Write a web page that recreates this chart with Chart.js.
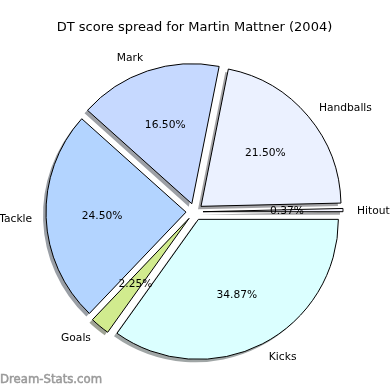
<!DOCTYPE html>
<html>
<head>
<meta charset="utf-8">
<script src="https://cdn.jsdelivr.net/npm/chart.js@4"></script>
<style>
  body { margin: 0; background: #fff; }
</style>
</head>
<body>
<canvas id="myChart" width="390" height="390"></canvas>
<script>
// listed clockwise from 3 o'clock (chart.js goes clockwise, the original goes the other way)
const labels = ['Kicks', 'Goals', 'Tackle', 'Mark', 'Handballs', 'Hitout'];
const percents = [34.87, 2.25, 24.50, 16.50, 21.50, 0.37];
const colors = ['#dbffff', '#d1eb8e', '#b3d4ff', '#c6d9ff', '#ebf1ff', '#f4f4ff'];

const FONT = "'DejaVu Sans', sans-serif";
const explode = 8.5;
const shadowShift = 3;

// darker, half transparent copy of the wedge colour
function shadowOf(hex) {
  const n = parseInt(hex.slice(1), 16);
  const r = (n >> 16) & 255, g = (n >> 8) & 255, b = n & 255;
  return `rgba(${Math.round(r * 0.3)},${Math.round(g * 0.3)},${Math.round(b * 0.3)},0.5)`;
}

const explodePlugin = {
  id: 'explode',
  afterDatasetUpdate(chart, args) {
    args.meta.data.forEach(arc => {
      const mid = (arc.startAngle + arc.endAngle) / 2;
      arc.x += explode * Math.cos(mid);
      arc.y += explode * Math.sin(mid);
    });
  },
  beforeDatasetDraw(chart, args) {
    const ctx = chart.ctx;
    args.meta.data.forEach((arc, i) => {
      const saved = arc.options;
      arc.options = Object.assign({}, saved, { backgroundColor: shadowOf(colors[i]), borderWidth: 0 });
      ctx.save();
      ctx.translate(-shadowShift, shadowShift);
      arc.draw(ctx);
      ctx.restore();
      arc.options = saved;
    });
  },
  afterDatasetsDraw(chart) {
    const ctx = chart.ctx;
    const meta = chart.getDatasetMeta(0);
    ctx.save();
    ctx.font = '10.7px ' + FONT;
    ctx.fillStyle = '#000';
    ctx.textBaseline = 'middle';
    meta.data.forEach((arc, i) => {
      const mid = (arc.startAngle + arc.endAngle) / 2;
      const c = Math.cos(mid), s = Math.sin(mid);
      const r = arc.outerRadius;
      ctx.textAlign = c > 0 ? 'left' : 'right';
      ctx.fillText(labels[i], arc.x + 1.1 * r * c, arc.y + 1.1 * r * s + 1);
      ctx.textAlign = 'center';
      ctx.fillText(percents[i].toFixed(2) + '%', arc.x + 0.6 * r * c, arc.y + 0.6 * r * s + 1);
    });
    // watermark, a little heavier than plain text
    ctx.font = '11.7px ' + FONT;
    ctx.fillStyle = '#9a9a9a';
    ctx.strokeStyle = '#9a9a9a';
    ctx.lineWidth = 0.5;
    ctx.textAlign = 'left';
    ctx.fillText('Dream-Stats.com', 0, 380);
    ctx.strokeText('Dream-Stats.com', 0, 380);
    ctx.restore();
  }
};

const ctx = document.getElementById('myChart');
new Chart(ctx, {
  type: 'pie',
  data: {
    labels: labels,
    datasets: [{
      data: percents,
      backgroundColor: colors,
      borderColor: '#000',
      borderWidth: 1,
      borderJoinStyle: 'miter',
      radius: 140
    }]
  },
  options: {
    responsive: false,
    animation: false,
    rotation: 90,
    layout: { padding: { left: 1, right: 2, top: 0, bottom: 2 } },
    plugins: {
      legend: { display: false },
      tooltip: { enabled: false },
      title: {
        display: true,
        text: 'DT score spread for Martin Mattner (2004)',
        color: '#000',
        font: { family: FONT, size: 13, weight: 'normal' },
        padding: { top: 20, bottom: 0 }
      }
    }
  },
  plugins: [explodePlugin]
});
</script>
</body>
</html>
